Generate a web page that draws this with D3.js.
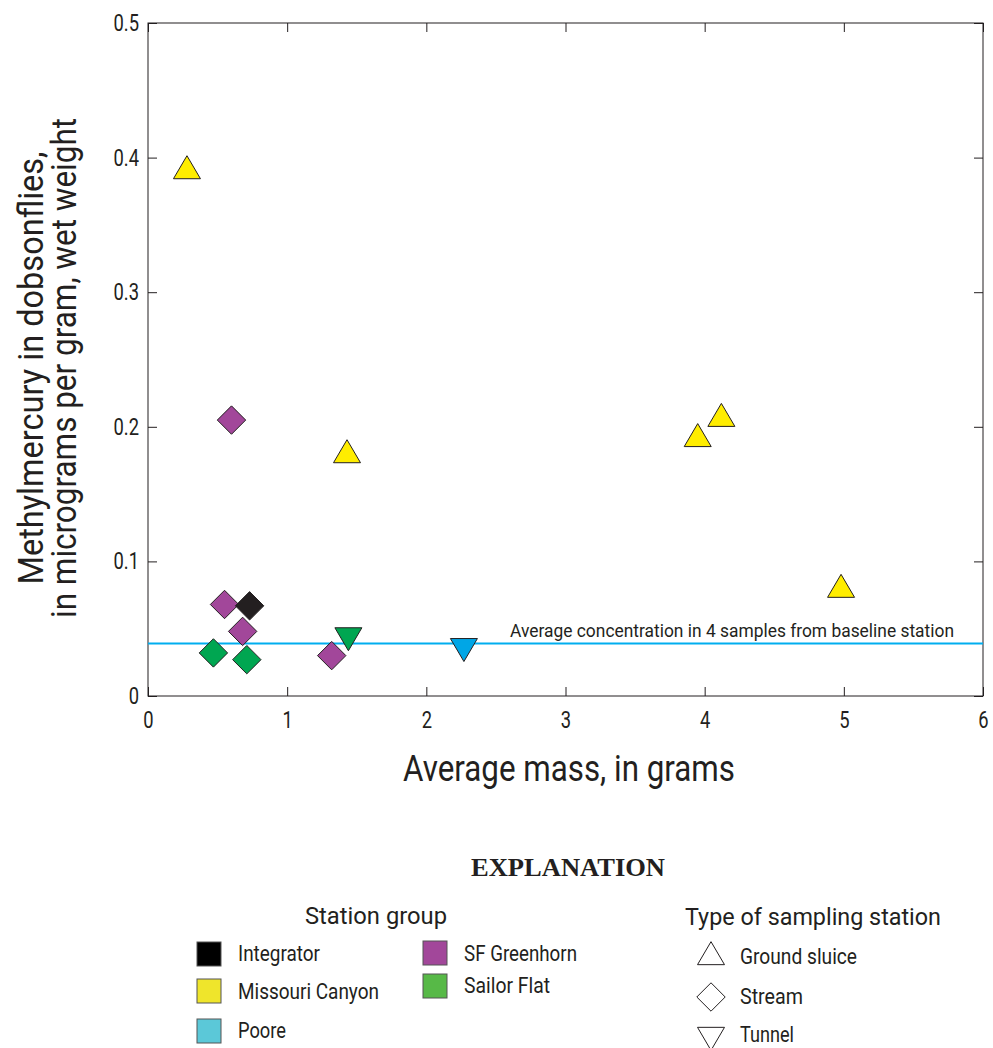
<!DOCTYPE html>
<html><head><meta charset="utf-8">
<script src="https://cdn.jsdelivr.net/npm/d3@7"></script>
<style>
body{margin:0;background:#fff;}
svg text{font-family:"Roboto","Liberation Sans",sans-serif;fill:#231F20;}
</style></head><body>
<svg id="c" width="993" height="1048"></svg>
<script>
// ---- data ----
const groups = ["Integrator","Missouri Canyon","Poore","SF Greenhorn","Sailor Flat"];
const groupMarkerColors = ["#231F20","#FFED00","#00A6E6","#A2479A","#00A651"];
const groupLegendColors = ["#000000","#EFE52B","#5BC8D8","#A2479A","#57B947"];
const stationTypes = ["Ground sluice","Stream","Tunnel"];
const pointGroup = ["Missouri Canyon","Missouri Canyon","Missouri Canyon","Missouri Canyon","Missouri Canyon",
  "SF Greenhorn","SF Greenhorn","Integrator","SF Greenhorn","Sailor Flat","Sailor Flat","SF Greenhorn",
  "Sailor Flat","Poore"];
const pointType = ["Ground sluice","Ground sluice","Ground sluice","Ground sluice","Ground sluice",
  "Stream","Stream","Stream","Stream","Stream","Stream","Stream","Tunnel","Tunnel"];
const massGrams = [0.28,1.43,3.95,4.12,4.98,0.60,0.55,0.73,0.68,0.47,0.71,1.32,1.44,2.27];
const methylHg = [0.390,0.179,0.191,0.206,0.079,0.205,0.068,0.067,0.048,0.032,0.027,0.030,0.045,0.037];
const baselineValue = 0.039;
const xTicks = [0,1,2,3,4,5,6];
const yTicks = [0,0.1,0.2,0.3,0.4,0.5];

const svg = d3.select("#c");
const L=148,R=983,T=23,B=696;
const x = d3.scaleLinear().domain([0,6]).range([L,R]);
const y = d3.scaleLinear().domain([0,0.5]).range([B,T]);
const color = d3.scaleOrdinal().domain(groups).range(groupMarkerColors);
const lcolor = d3.scaleOrdinal().domain(groups).range(groupLegendColors);

function condense(sel, f){
  sel.each(function(){
    const w=this.getComputedTextLength();
    if(w>0) d3.select(this).attr("textLength",w*f).attr("lengthAdjust","spacingAndGlyphs");
  });
}
function fitW(sel, w){ sel.attr("textLength",w).attr("lengthAdjust","spacingAndGlyphs"); }

function shapePath(type){
  const w=27,h=23,r=14.2;
  if(type==="Ground sluice") return `M0,${-h*2/3}L${w/2},${h/3}L${-w/2},${h/3}Z`;
  if(type==="Tunnel") return `M0,${h*2/3}L${w/2},${-h/3}L${-w/2},${-h/3}Z`;
  return `M0,${-r}L${r},0L0,${r}L${-r},0Z`;
}

// axes frame
const g = svg.append("g");
const tick=9;
const tf=0.78;
g.append("g").attr("transform",`translate(0,${B})`)
  .call(d3.axisBottom(x).tickValues(xTicks).tickSize(-tick).tickPadding(15).tickFormat(d3.format("d")))
  .call(a=>{a.select(".domain").remove();a.selectAll("text").attr("font-size",23.5).attr("fill","#231F20");a.selectAll("line").attr("stroke","#231F20");});
g.append("g").attr("transform",`translate(0,${T})`)
  .call(d3.axisTop(x).tickValues(xTicks).tickSize(-tick).tickFormat(""))
  .call(a=>{a.select(".domain").remove();a.selectAll("line").attr("stroke","#231F20");});
g.append("g").attr("transform",`translate(${L},0)`)
  .call(d3.axisLeft(y).tickValues(yTicks).tickSize(-tick).tickPadding(9).tickFormat(d=>d===0?"0":d3.format(".1f")(d)))
  .call(a=>{a.select(".domain").remove();a.selectAll("text").attr("font-size",23.5).attr("fill","#231F20");a.selectAll("line").attr("stroke","#231F20");});
g.append("g").attr("transform",`translate(${R},0)`)
  .call(d3.axisRight(y).tickValues(yTicks).tickSize(-tick).tickFormat(""))
  .call(a=>{a.select(".domain").remove();a.selectAll("line").attr("stroke","#231F20");});
condense(g.selectAll(".tick text"), tf);
g.append("rect").attr("x",L).attr("y",T).attr("width",R-L).attr("height",B-T)
  .attr("fill","none").attr("stroke","#231F20").attr("stroke-width",1);

// baseline
svg.append("line").attr("x1",L).attr("x2",R).attr("y1",y(baselineValue)).attr("y2",y(baselineValue))
  .attr("stroke","#00AEEF").attr("stroke-width",2);
svg.append("text").attr("x",510).attr("y",y(baselineValue)-7)
  .attr("font-size",18).text("Average concentration in 4 samples from baseline station")
  .call(fitW,444);

// points
const pts = massGrams.map((m,i)=>({m, v:methylHg[i], g:pointGroup[i], t:pointType[i]}));
svg.append("g").selectAll("path").data(pts).join("path")
  .attr("transform",d=>`translate(${x(d.m)},${y(d.v)})`)
  .attr("d",d=>shapePath(d.t))
  .attr("fill",d=>color(d.g)).attr("stroke","#231F20").attr("stroke-width",1);

// axis titles
svg.append("text").attr("x",403).attr("y",781)
  .attr("font-size",37).text("Average mass, in grams").call(fitW,332);
const yt = svg.append("text").attr("transform",`translate(0,368) rotate(-90)`).attr("text-anchor","middle").attr("font-size",35);
yt.append("tspan").attr("x",0).attr("y",43).text("Methylmercury in dobsonflies,");
yt.append("tspan").attr("x",0).attr("y",76).text("in micrograms per gram, wet weight");
yt.selectAll("tspan").each(function(d,i){ d3.select(this).attr("textLength",i===0?433:500).attr("lengthAdjust","spacingAndGlyphs"); });

// explanation
svg.append("text").attr("x",471).attr("y",876)
  .attr("font-size",25).attr("font-weight","bold").style("font-family","'Liberation Serif','Times New Roman',serif")
  .text("EXPLANATION").call(fitW,194);
svg.append("text").attr("x",305).attr("y",924).attr("font-size",24).text("Station group").call(fitW,142);
const legPos = [[197,942],[197,979],[197,1019],[423,941],[423,974]];
const legTextY = [961,999,1038,961,993];
const legW = [82,141,48,113,86];
const lg = svg.append("g").selectAll("g").data(groups).join("g")
  .attr("transform",(d,i)=>`translate(${legPos[i][0]},0)`);
lg.append("rect").attr("y",(d,i)=>legPos[i][1]).attr("width",24).attr("height",24).attr("fill",d=>lcolor(d)).attr("stroke","#555").attr("stroke-width",1);
lg.append("text").attr("x",41).attr("y",(d,i)=>legTextY[i]).attr("font-size",22).text(d=>d)
  .each(function(d,i){ d3.select(this).attr("textLength",legW[i]).attr("lengthAdjust","spacingAndGlyphs"); });

svg.append("text").attr("x",685).attr("y",925).attr("font-size",24).text("Type of sampling station").call(fitW,256);
const typePos = [957,997,1035];
const typeTextY = [964,1004,1042];
const typeW = [117,63,54];
const tg = svg.append("g").selectAll("g").data(stationTypes).join("g");
tg.append("path").attr("transform",(d,i)=>`translate(711,${typePos[i]})`).attr("d",d=>shapePath(d)).attr("fill","none").attr("stroke","#231F20").attr("stroke-width",1);
tg.append("text").attr("x",740).attr("y",(d,i)=>typeTextY[i]).attr("font-size",22).text(d=>d)
  .each(function(d,i){ d3.select(this).attr("textLength",typeW[i]).attr("lengthAdjust","spacingAndGlyphs"); });
</script></body></html>
